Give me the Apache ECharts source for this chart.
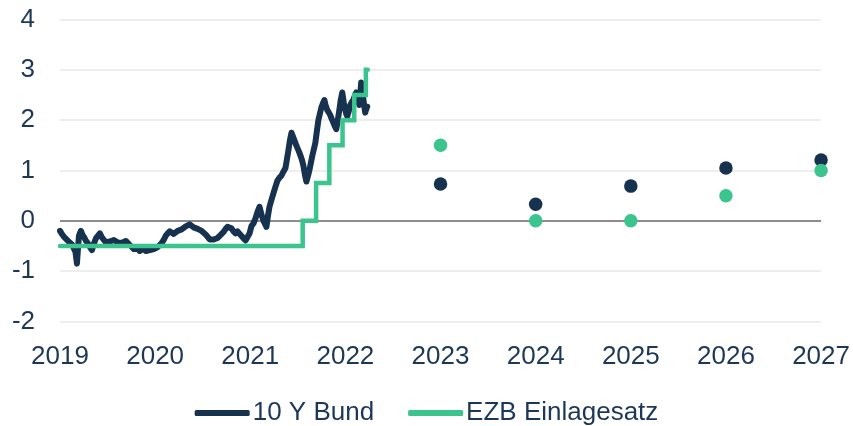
<!DOCTYPE html>
<html>
<head>
<meta charset="utf-8">
<script src="https://cdn.jsdelivr.net/npm/echarts@6/dist/echarts.min.js"></script>
<style>
  html, body { margin: 0; padding: 0; background: #ffffff; }
  #chart { width: 853px; height: 426px; }
</style>
</head>
<body>
<div id="chart"></div>
<script>
// Rendite 10-jähriger Bundesanleihen (Tageswerte) – [Zeitachse in Jahren, Rendite in %]
var bundHistory = [
  [2019.000, -0.20], [2019.016, -0.25], [2019.031, -0.28], [2019.047, -0.33], [2019.063, -0.35],
  [2019.084, -0.40], [2019.105, -0.42], [2019.126, -0.47], [2019.147, -0.50], [2019.163, -0.62],
  [2019.178, -0.85], [2019.189, -0.55], [2019.199, -0.30], [2019.210, -0.24], [2019.220, -0.20],
  [2019.236, -0.28], [2019.252, -0.32], [2019.273, -0.40], [2019.294, -0.45], [2019.315, -0.52],
  [2019.336, -0.58], [2019.357, -0.45], [2019.377, -0.35], [2019.398, -0.30], [2019.419, -0.25],
  [2019.440, -0.33], [2019.461, -0.38], [2019.482, -0.43], [2019.503, -0.45], [2019.524, -0.41],
  [2019.545, -0.42], [2019.566, -0.38], [2019.587, -0.40], [2019.608, -0.43], [2019.629, -0.40],
  [2019.650, -0.44], [2019.671, -0.45], [2019.692, -0.40], [2019.713, -0.42], [2019.734, -0.48],
  [2019.755, -0.52], [2019.776, -0.56], [2019.797, -0.58], [2019.818, -0.56], [2019.839, -0.60],
  [2019.860, -0.57], [2019.881, -0.55], [2019.902, -0.60], [2019.923, -0.62], [2019.944, -0.58],
  [2019.965, -0.60], [2019.986, -0.56], [2020.007, -0.55], [2020.028, -0.52], [2020.048, -0.50],
  [2020.069, -0.44], [2020.090, -0.38], [2020.111, -0.30], [2020.132, -0.25], [2020.153, -0.21],
  [2020.174, -0.22], [2020.195, -0.26], [2020.216, -0.25], [2020.237, -0.20], [2020.258, -0.18],
  [2020.279, -0.17], [2020.300, -0.15], [2020.321, -0.11], [2020.342, -0.08], [2020.363, -0.07],
  [2020.384, -0.10], [2020.405, -0.13], [2020.426, -0.15], [2020.447, -0.16], [2020.468, -0.18],
  [2020.489, -0.20], [2020.510, -0.22], [2020.531, -0.27], [2020.552, -0.32], [2020.573, -0.37],
  [2020.594, -0.40], [2020.615, -0.37], [2020.636, -0.35], [2020.657, -0.34], [2020.678, -0.32],
  [2020.699, -0.26], [2020.720, -0.22], [2020.741, -0.16], [2020.761, -0.12], [2020.782, -0.13],
  [2020.803, -0.15], [2020.824, -0.21], [2020.845, -0.25], [2020.866, -0.21], [2020.887, -0.22],
  [2020.908, -0.30], [2020.929, -0.35], [2020.950, -0.39], [2020.971, -0.40], [2020.992, -0.25],
  [2021.013, -0.10], [2021.034, -0.05], [2021.055, 0.05], [2021.076, 0.18], [2021.097, 0.28],
  [2021.118, 0.12], [2021.139, 0.00], [2021.155, -0.06], [2021.170, -0.12], [2021.186, 0.10],
  [2021.202, 0.28], [2021.223, 0.42], [2021.244, 0.55], [2021.265, 0.68], [2021.286, 0.80],
  [2021.307, 0.86], [2021.328, 0.90], [2021.349, 0.98], [2021.370, 1.05], [2021.385, 1.22],
  [2021.401, 1.40], [2021.417, 1.60], [2021.433, 1.75], [2021.448, 1.68], [2021.464, 1.60],
  [2021.480, 1.52], [2021.495, 1.45], [2021.511, 1.38], [2021.527, 1.30], [2021.542, 1.22],
  [2021.558, 1.10], [2021.574, 0.92], [2021.590, 0.78], [2021.605, 0.88], [2021.621, 1.00],
  [2021.637, 1.15], [2021.653, 1.30], [2021.668, 1.42], [2021.684, 1.55], [2021.700, 1.78],
  [2021.716, 2.00], [2021.731, 2.12], [2021.747, 2.25], [2021.763, 2.33], [2021.779, 2.40],
  [2021.794, 2.28], [2021.810, 2.20], [2021.826, 2.15], [2021.841, 2.10], [2021.857, 2.02],
  [2021.873, 1.95], [2021.888, 1.88], [2021.904, 1.82], [2021.920, 2.00], [2021.936, 2.20],
  [2021.951, 2.40], [2021.967, 2.55], [2021.983, 2.35], [2021.999, 2.20], [2022.010, 2.12],
  [2022.020, 2.08], [2022.036, 2.18], [2022.051, 2.30], [2022.067, 2.36], [2022.083, 2.40],
  [2022.098, 2.48], [2022.114, 2.55], [2022.130, 2.42], [2022.146, 2.30], [2022.156, 2.50],
  [2022.166, 2.75], [2022.177, 2.60], [2022.187, 2.45], [2022.198, 2.28], [2022.208, 2.15],
  [2022.219, 2.22], [2022.229, 2.27]
];

// EZB-Einlagesatz: Zeitpunkt der Zinsänderung und neuer Satz in %
var ezbHistory = [
  [2019.000, -0.50], [2021.551, 0.00], [2021.692, 0.75], [2021.831, 1.50],
  [2021.970, 2.00], [2022.093, 2.50], [2022.215, 3.00], [2022.235, 3.00]
];

// Prognosen zum Jahresende
var forecastYears = [2023, 2024, 2025, 2026, 2027];
var bundForecast  = [0.73, 0.33, 0.69, 1.05, 1.21];
var ezbForecast   = [1.50, 0.00, 0.00, 0.50, 1.00];

// Achsenbeschriftungen
var yTicks = [-2, -1, 0, 1, 2, 3, 4];
var xTicks = [2019, 2020, 2021, 2022, 2023, 2024, 2025, 2026, 2027];

var NAVY = '#17324f';
var GREEN = '#3cc48f';
var TEXT = '#1d3856';
var FONT = '"Liberation Sans", Arial, sans-serif';

function pairs(xs, ys) {
  return xs.map(function (x, i) { return [x, ys[i]]; });
}

var chart = echarts.init(document.getElementById('chart'), null, { renderer: 'canvas' });

chart.setOption({
  animation: false,
  backgroundColor: '#ffffff',
  textStyle: { fontFamily: FONT },
  grid: { left: 60, right: 30, top: 19.5, bottom: 104.5, containLabel: false },
  legend: {
    data: ['10 Y Bund', 'EZB Einlagesatz'],
    bottom: -5,
    left: 'center',
    icon: 'roundRect',
    itemWidth: 55,
    itemHeight: 6,
    itemGap: 34,
    textStyle: { color: TEXT, fontSize: 26, fontFamily: FONT, padding: [0, 0, 0, -2] }
  },
  xAxis: {
    type: 'value',
    min: xTicks[0],
    max: xTicks[xTicks.length - 1],
    interval: 1,
    axisLine: { show: false, onZero: false },
    axisTick: { show: false },
    splitLine: { show: false },
    axisLabel: {
      color: TEXT, fontSize: 26, fontFamily: FONT, margin: 22,
      formatter: function (v) { return String(Math.round(v)); }
    }
  },
  yAxis: {
    type: 'value',
    min: yTicks[0],
    max: yTicks[yTicks.length - 1],
    interval: 1,
    axisLine: { show: false },
    axisTick: { show: false },
    axisLabel: { color: TEXT, fontSize: 26, fontFamily: FONT, margin: 25 },
    splitLine: {
      show: true,
      lineStyle: {
        width: 2,
        color: yTicks.map(function (t) { return t === 0 ? '#8c8c8c' : '#eeeeee'; })
      }
    }
  },
  series: [
    {
      name: '10 Y Bund',
      type: 'line',
      data: bundHistory,
      showSymbol: false,
      symbol: 'none',
      lineStyle: { color: NAVY, width: 6, cap: 'round', join: 'round' },
      itemStyle: { color: NAVY },
      z: 2
    },
    {
      name: 'EZB Einlagesatz',
      type: 'line',
      data: ezbHistory,
      step: 'end',
      showSymbol: false,
      symbol: 'none',
      lineStyle: { color: GREEN, width: 4.5, cap: 'round', join: 'miter' },
      itemStyle: { color: GREEN },
      z: 3
    },
    {
      name: 'Bund Prognose',
      type: 'scatter',
      data: pairs(forecastYears, bundForecast),
      symbolSize: 13.5,
      itemStyle: { color: NAVY, opacity: 1 },
      clip: false,
      z: 4
    },
    {
      name: 'EZB Prognose',
      type: 'scatter',
      data: pairs(forecastYears, ezbForecast),
      symbolSize: 13.5,
      itemStyle: { color: GREEN, opacity: 1 },
      clip: false,
      z: 5
    }
  ]
});
</script>
</body>
</html>
